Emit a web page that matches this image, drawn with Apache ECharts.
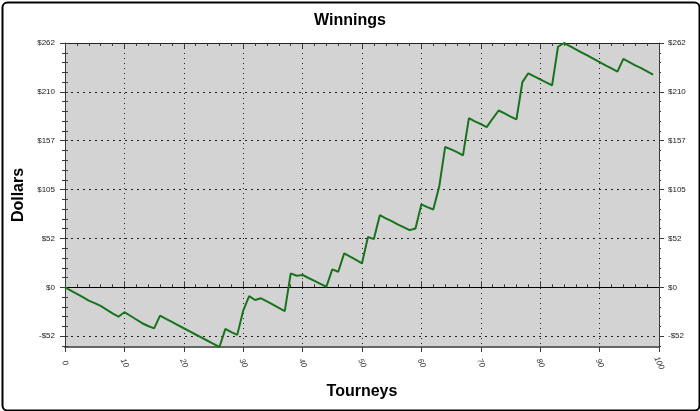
<!DOCTYPE html>
<html>
<head>
<meta charset="utf-8">
<script src="https://cdn.jsdelivr.net/npm/echarts@6/dist/echarts.min.js"></script>
<style>
html,body{margin:0;padding:0;background:#fff;}
#c{width:700px;height:411px;}
</style>
</head>
<body>
<div id="c"></div>
<script>
// Tourney index 0..99 and cumulative winnings (dollars)
const tourneys = [];
for (let i = 0; i < 100; i++) tourneys.push(i);
const winnings = [
  0, -3.5, -7, -10.5, -14.3, -17, -20, -24, -28, -31.5,
  -26.7, -30.5, -34.5, -38.5, -41.5, -44, -30.4, -33.8, -37.1, -40.5,
  -43.9, -47.2, -50.6, -53.9, -57.3, -60.6, -64, -44.5, -48, -51,
  -25, -9.5, -13.6, -11.8, -15, -18.5, -22, -25.5, 15, 12.4,
  13.2, 10, 7, 3.8, 0.6, 19.3, 16.7, 36.4, 32.8, 29.3,
  25.8, 54, 51.7, 77.3, 74, 71, 67.5, 64.5, 61.3, 63.1,
  89, 86, 83.5, 108, 150.5, 148, 145, 141.5, 181.5, 178,
  175, 171.8, 181, 189.6, 186.5, 183, 180, 220, 229.5, 226.2,
  223, 219.7, 216.5, 258, 262, 258.6, 255.2, 251.8, 248.4, 245,
  241.6, 238.1, 234.7, 231.3, 245, 241.5, 238, 235, 231.5, 228
];
// Y axis ticks
const yMajorValues = [-52.4, 0, 52.4, 104.8, 157.2, 209.6, 262];
const yMajorLabels = ['-$52', '$0', '$52', '$105', '$157', '$210', '$262'];
const yMinorValues = [-62.88, -52.4, -41.92, -31.44, -20.96, -10.48, 0, 10.48, 20.96, 31.44, 41.92, 52.4, 62.88, 73.36, 83.84, 94.32, 104.8, 115.28, 125.76, 136.24, 146.72, 157.2, 167.68, 178.16, 188.64, 199.12, 209.6, 220.08, 230.56, 241.04, 251.52, 262];
const yMin = -64, yMax = 262;
const xMin = 0, xMax = 100, xStep = 10;

const chart = echarts.init(document.getElementById('c'), null, {renderer: 'canvas'});
const FONT = 'Liberation Sans, Arial, sans-serif';
const axisCol = '#3a3a3a';
const labelFmt = v => {
  for (let i = 0; i < yMajorValues.length; i++) if (Math.abs(v - yMajorValues[i]) < 1e-6) return yMajorLabels[i];
  return '';
};
const baseX = {
  type: 'value', min: xMin, max: xMax, interval: xStep,
  axisLine: {show: true, onZero: false, lineStyle: {color: axisCol, width: 1}},
  axisLabel: {show: false}, splitLine: {show: false}
};
const baseY = {
  type: 'value', min: yMin, max: yMax,
  axisLine: {show: true, onZero: false, lineStyle: {color: axisCol, width: 1}},
  axisLabel: {show: false}, splitLine: {show: false}
};
const option = {
  animation: false,
  backgroundColor: '#ffffff',
  title: {
    text: 'Winnings', left: 'center', top: 8,
    textStyle: {fontFamily: FONT, fontSize: 16, fontWeight: 'bold', color: '#000'}
  },
  grid: {left: 65, right: 41, top: 43, bottom: 64, show: true, backgroundColor: '#d3d3d3', borderWidth: 0},
  xAxis: [
    Object.assign({}, baseX, {
      position: 'bottom',
      name: 'Tourneys', nameLocation: 'middle', nameGap: 37,
      nameTextStyle: {fontFamily: FONT, fontSize: 16, fontWeight: 'bold', color: '#000'},
      axisLine: {show: true, onZero: false, lineStyle: {color: '#666', width: 2}},
      axisTick: {show: true, inside: false, length: 5, lineStyle: {color: axisCol}},
      axisLabel: {show: true, rotate: -65, align: 'center', verticalAlign: 'middle', margin: 16,
        fontFamily: FONT, fontSize: 8, color: '#333', fontStyle: 'italic'},
      splitLine: {show: true, lineStyle: {color: '#222', type: [1, 4], width: 1}}
    }),
    Object.assign({}, baseX, {
      position: 'bottom',
      axisLine: {show: false},
      axisTick: {show: true, inside: true, length: 6, lineStyle: {color: axisCol}},
      minorTick: {show: true, splitNumber: 5, length: 3, lineStyle: {color: axisCol}}
    }),
    Object.assign({}, baseX, {
      position: 'top',
      axisLine: {show: true, onZero: false, lineStyle: {color: '#222', width: 1}},
      axisTick: {show: true, inside: true, length: 5, lineStyle: {color: axisCol}},
      minorTick: {show: true, splitNumber: 5, length: 3, lineStyle: {color: axisCol}}
    })
  ],
  yAxis: [
    Object.assign({}, baseY, {
      position: 'left',
      name: 'Dollars', nameLocation: 'middle', nameGap: 38, nameRotate: 90,
      nameTextStyle: {fontFamily: FONT, fontSize: 16, fontWeight: 'bold', color: '#000'},
      axisTick: {show: true, inside: false, length: 5, customValues: yMajorValues, lineStyle: {color: axisCol}},
      axisLabel: {show: true, customValues: yMajorValues, formatter: labelFmt, margin: 10,
        fontFamily: FONT, fontSize: 8, color: '#222'},
      splitLine: {show: true, lineStyle: {color: '#222', type: [2, 4], width: 1}}
    }),
    Object.assign({}, baseY, {
      position: 'left', axisLine: {show: false},
      axisTick: {show: true, inside: true, length: 3, customValues: yMinorValues, lineStyle: {color: axisCol}}
    }),
    Object.assign({}, baseY, {
      position: 'left', axisLine: {show: false},
      axisTick: {show: true, inside: false, length: 2, customValues: yMinorValues, lineStyle: {color: axisCol}}
    }),
    Object.assign({}, baseY, {
      position: 'right',
      axisTick: {show: true, inside: false, length: 5, customValues: yMajorValues, lineStyle: {color: axisCol}},
      axisLabel: {show: true, customValues: yMajorValues, formatter: labelFmt, margin: 9,
        fontFamily: FONT, fontSize: 8, color: '#222'}
    }),
    Object.assign({}, baseY, {
      position: 'right', axisLine: {show: false},
      axisTick: {show: true, inside: true, length: 3, customValues: yMinorValues, lineStyle: {color: axisCol}}
    }),
    Object.assign({}, baseY, {
      position: 'right', axisLine: {show: false},
      axisTick: {show: true, inside: false, length: 2, customValues: yMinorValues, lineStyle: {color: axisCol}}
    })
  ],
  graphic: [{
    type: 'rect', left: 0, top: 0, z: 100, silent: true,
    shape: {x: 1, y: 1, width: 697, height: 408, r: 5},
    style: {fill: 'none', stroke: '#000', lineWidth: 2}
  }],
  series: [{
    type: 'line',
    xAxisIndex: 0, yAxisIndex: 0,
    data: tourneys.map((t, i) => [t, winnings[i]]),
    showSymbol: false, symbol: 'none',
    clip: false,
    lineStyle: {color: '#17731c', width: 2},
    markLine: {
      silent: true, symbol: 'none', label: {show: false},
      lineStyle: {color: '#000', type: 'solid', width: 1},
      data: [{yAxis: 0}],
      z: 1
    },
    z: 5
  }]
};
chart.setOption(option);
</script>
</body>
</html>
